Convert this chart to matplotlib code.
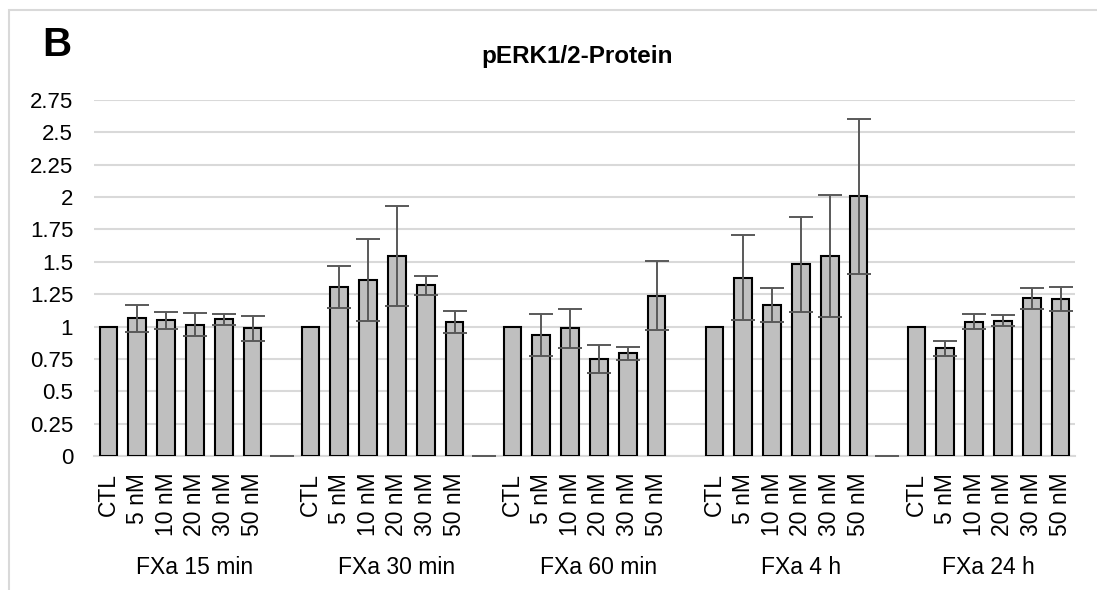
"""
pERK1/2 protein levels after FXa stimulation, bar chart with SEM whiskers.
"""

import matplotlib
matplotlib.use("Agg")
import matplotlib.pyplot as plt
from matplotlib.patches import Rectangle
import numpy as np

plt.rcParams["font.family"] = ["Liberation Sans", "DejaVu Sans"]

# ---------------------------------------------------------------------------
# Data
# ---------------------------------------------------------------------------
GROUPS = ["FXa 15 min", "FXa 30 min", "FXa 60 min", "FXa 4 h", "FXa 24 h"]
CONCS  = ["CTL", "5 nM", "10 nM", "20 nM", "30 nM", "50 nM"]

mean_15min = [1.0, 1.065, 1.048, 1.015, 1.055, 0.985]
err_15min  = [0.0, 0.105, 0.068, 0.088, 0.040, 0.100]

mean_30min = [1.0, 1.308, 1.360, 1.542, 1.318, 1.036]
err_30min  = [0.0, 0.162, 0.319, 0.386, 0.075, 0.085]

mean_60min = [1.0, 0.935, 0.986, 0.749, 0.793, 1.238]
err_60min  = [0.0, 0.160, 0.150, 0.110, 0.048, 0.265]

mean_4h    = [1.0, 1.378, 1.168, 1.480, 1.547, 2.006]
err_4h     = [0.0, 0.328, 0.130, 0.365, 0.470, 0.600]

mean_24h   = [1.0, 0.832, 1.037, 1.045, 1.218, 1.213]
err_24h    = [0.0, 0.057, 0.057, 0.043, 0.080, 0.092]

# empty spacer rows between the groups (0 = zero value, None = blank cell)
gap_values = [0, 0, None, 0]

means = [mean_15min, mean_30min, mean_60min, mean_4h, mean_24h]
errs  = [err_15min, err_30min, err_60min, err_4h, err_24h]

# ---------------------------------------------------------------------------
# Style
# ---------------------------------------------------------------------------
BAR_COLOR  = "#bfbfbf"
ERR_COLOR  = "#595959"
GRID_COLOR = "#d9d9d9"
FS         = 16

fig = plt.figure(figsize=(10.97, 5.90), dpi=100)
ax = fig.add_axes([94 / 1097, 134 / 590, (1075 - 94) / 1097, (456 - 100) / 590])

# slot positions: 6 bars per group + one spacer slot between groups
n_per = len(CONCS)
step  = n_per + 1
bar_x, bar_h, bar_e, tick_lbl = [], [], [], []
for gi, (m, e) in enumerate(zip(means, errs)):
    xs = gi * step + np.arange(n_per)
    bar_x.extend(xs)
    bar_h.extend(m)
    bar_e.extend(e)
    tick_lbl.extend(CONCS)
bar_x = np.array(bar_x, dtype=float)

ax.bar(bar_x, bar_h, width=0.61, color=BAR_COLOR, edgecolor="black",
       linewidth=1.5, zorder=3)
has_err = np.array(bar_e) > 0
ax.errorbar(bar_x[has_err], np.array(bar_h)[has_err], yerr=np.array(bar_e)[has_err],
            fmt="none", ecolor=ERR_COLOR, elinewidth=1.4, capsize=8.5,
            capthick=1.4, zorder=4)

# spacer rows with a zero value show up as a lone flat marker
for gi, gv in enumerate(gap_values):
    if gv is None:
        continue
    ax.errorbar([gi * step + n_per], [gv], yerr=[0], fmt="none",
                ecolor=ERR_COLOR, elinewidth=1.2, capsize=8.5, capthick=1.2,
                zorder=4)

ax.set_xlim(-0.5, bar_x[-1] + 0.5)
ax.set_ylim(0, 2.75)
ax.set_yticks(np.arange(0, 2.76, 0.25))
ax.set_yticklabels(["0", "0.25", "0.5", "0.75", "1", "1.25", "1.5", "1.75",
                    "2", "2.25", "2.5", "2.75"], fontsize=FS)
ax.set_xticks(bar_x)
ax.set_xticklabels(tick_lbl, rotation=90, fontsize=16.5)
ax.tick_params(axis="both", length=0)
ax.tick_params(axis="y", pad=15)
ax.tick_params(axis="x", pad=12)

ax.grid(axis="y", color=GRID_COLOR, linewidth=1.5, zorder=0)
ax.set_axisbelow(True)
for side in ["top", "right", "left"]:
    ax.spines[side].set_visible(False)
ax.spines["bottom"].set_color(GRID_COLOR)
ax.spines["bottom"].set_linewidth(1.5)

# group labels span the group's bars plus the trailing spacer slot
for gi, name in enumerate(GROUPS):
    span_end = n_per if gi < len(GROUPS) - 1 else n_per - 1
    cx = gi * step + span_end / 2
    ax.text(cx, -0.3146, name, transform=ax.get_xaxis_transform(),
            ha="center", va="center", fontsize=16.5)

fig.text(577 / 1097, 1 - 57 / 590, "pERK1/2-Protein", ha="center", va="center",
         fontsize=17.5, fontweight="bold")
fig.text(57 / 1097, 1 - 45 / 590, "B", ha="center", va="center",
         fontsize=29, fontweight="bold")

# chart frame (cropped at right and bottom in the source)
fig.patches.append(Rectangle((9 / 1097, -0.05), 1.2, 1.05 - 10 / 590,
                             transform=fig.transFigure, fill=False,
                             edgecolor=GRID_COLOR, linewidth=1.5))

fig.savefig("out.png", dpi=100)
